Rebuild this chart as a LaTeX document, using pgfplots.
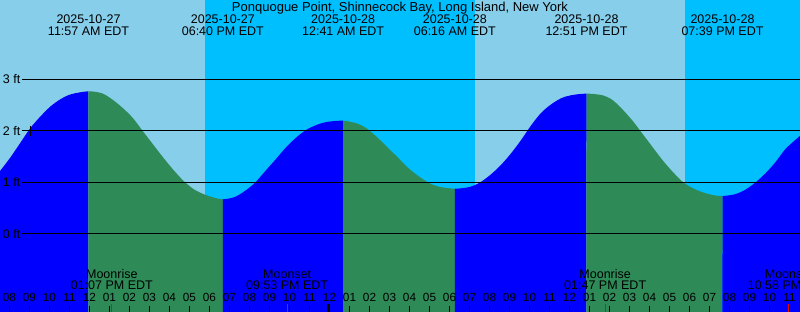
\documentclass[border=0pt]{standalone}
\usepackage{pgfplots}
\pgfplotsset{compat=1.18}
\usepgfplotslibrary{fillbetween}
\usepackage{fontspec}
\setmainfont{Liberation Sans}
\definecolor{daysky}{RGB}{135,206,235}
\definecolor{nightsky}{RGB}{0,191,255}
\definecolor{tideblue}{RGB}{0,0,255}
\definecolor{tidegreen}{RGB}{46,139,87}
\newcommand{\evfont}{\fontsize{12.5bp}{15bp}\selectfont}
\newcommand{\ttlfont}{\fontsize{13bp}{15bp}\selectfont}
\newcommand{\hrfont}{\fontsize{11.8bp}{13bp}\selectfont}
\pgfplotstableread{
h ft
7.0 0.95
7.525 1.217
8.035 1.476
8.545 1.767
9.055 2.058
9.565 2.285
10.075 2.48
10.585 2.62
11.095 2.71
11.95 2.765
12.625 2.726
13.125 2.61
13.645 2.447
14.16 2.25
14.67 1.99
15.175 1.735
15.69 1.476
16.2 1.237
16.71 1.023
17.22 0.862
17.725 0.765
18.225 0.70
18.667 0.668
19.26 0.713
19.77 0.83
20.275 0.99
20.79 1.217
21.3 1.44
21.81 1.67
22.325 1.864
22.825 2.014
23.34 2.11
23.85 2.17
24.683 2.194
25.375 2.14
25.875 2.04
26.405 1.864
26.915 1.67
27.425 1.476
27.925 1.28
28.445 1.12
28.955 0.99
29.465 0.913
30.267 0.874
30.995 0.907
31.505 0.99
32.015 1.134
32.525 1.315
33.035 1.54
33.545 1.80
34.055 2.09
34.565 2.34
35.075 2.51
35.585 2.63
36.095 2.69
36.85 2.72
37.625 2.69
38.135 2.60
38.645 2.415
39.16 2.19
39.67 1.93
40.175 1.67
40.69 1.41
41.2 1.185
41.71 0.99
42.22 0.874
42.725 0.796
43.24 0.746
43.65 0.732
44.26 0.765
44.77 0.85
45.28 0.99
45.79 1.17
46.3 1.39
46.81 1.65
47.525 1.90
48.0 2.06
}\tide
\begin{document}
\begin{tikzpicture}
\begin{axis}[
  at={(0,0)}, anchor=south west,
  scale only axis, width=800bp, height=312bp,
  xmin=7.525, xmax=47.525, ymin=-1.520, ymax=4.538,
  set layers,
  axis line style={draw=none},
  axis on top,
  tick align=inside,
  xtick pos=bottom,
  major tick length=6.3bp,
  xtick={8,...,47},
  xticklabels={08,09,10,11,12,01,02,03,04,05,06,07,08,09,10,11,12,01,02,03,04,05,06,07,08,09,10,11,12,01,02,03,04,05,06,07,08,09,10,11},
  xtick style={black, line width=1bp},
  xticklabel style={anchor=base, yshift=10.3bp, inner sep=0pt, font=\hrfont},
  ytick={0,1,2,3},
  yticklabels={0 ft,1 ft,2 ft,3 ft},
  ytick style={draw=none},
  yticklabel style={anchor=west, inner sep=0pt, xshift=2.7bp, font=\evfont},
]
% day / night background
\addplot[on layer=axis background, draw=none, fill=daysky] coordinates {(6.5,-2) (6.5,5) (17.775,5) (17.775,-2)} -- cycle;
\addplot[on layer=axis background, draw=none, fill=nightsky] coordinates {(17.775,-2) (17.775,5) (31.275,5) (31.275,-2)} -- cycle;
\addplot[on layer=axis background, draw=none, fill=daysky] coordinates {(31.275,-2) (31.275,5) (41.775,5) (41.775,-2)} -- cycle;
\addplot[on layer=axis background, draw=none, fill=nightsky] coordinates {(41.775,-2) (41.775,5) (48.5,5) (48.5,-2)} -- cycle;
% tide curve
\addplot[name path=tide, draw=none, smooth] table[x=h, y=ft] {\tide};
\addplot[name path=bot, draw=none] coordinates {(6.5,-2) (48.5,-2)};
\addplot[fill=tideblue, draw=none] fill between[of=tide and bot, soft clip={domain=6.9:11.95}];
\addplot[fill=tidegreen, draw=none] fill between[of=tide and bot, soft clip={domain=11.95:18.667}];
\addplot[fill=tideblue, draw=none] fill between[of=tide and bot, soft clip={domain=18.667:24.683}];
\addplot[fill=tidegreen, draw=none] fill between[of=tide and bot, soft clip={domain=24.683:30.267}];
\addplot[fill=tideblue, draw=none] fill between[of=tide and bot, soft clip={domain=30.267:36.85}];
\addplot[fill=tidegreen, draw=none] fill between[of=tide and bot, soft clip={domain=36.85:43.65}];
\addplot[fill=tideblue, draw=none] fill between[of=tide and bot, soft clip={domain=43.65:48.1}];
% level lines
\addplot[black, line width=1.2bp] coordinates {(8.625,0) (48.5,0)};
\addplot[black, line width=1.2bp] coordinates {(8.625,1) (48.5,1)};
\addplot[black, line width=1.2bp] coordinates {(8.625,2) (48.5,2)};
\addplot[black, line width=1.2bp] coordinates {(8.625,3) (48.5,3)};
% current level marker
\addplot[black, only marks, mark=+, mark size=5bp, mark options={line width=1bp}] coordinates {(9.025,2.0)};
% moon ticks and midnight tick
\addplot[red, line width=1bp] coordinates {(13.117,-1.52) (13.117,-1.365)};
\addplot[red, line width=1bp] coordinates {(21.883,-1.52) (21.883,-1.365)};
\addplot[red, line width=1bp] coordinates {(37.783,-1.52) (37.783,-1.365)};
\addplot[red, line width=1bp] coordinates {(46.967,-1.52) (46.967,-1.365)};
\addplot[black, line width=2.7bp] coordinates {(23.96,-1.52) (23.96,-1.365)};
% title
\node[anchor=base, inner sep=0pt, font=\ttlfont] at (axis cs:27.525,4.32) {Ponquogue Point, Shinnecock Bay, Long Island, New York};
% tide event labels
\node[anchor=base, inner sep=0pt, font=\evfont] at (axis cs:5.49,4.072) {2025-10-27};
\node[anchor=base, inner sep=0pt, font=\evfont] at (axis cs:5.49,3.839) {05:29 AM EDT};
\node[anchor=base, inner sep=0pt, font=\evfont] at (axis cs:11.95,4.072) {2025-10-27};
\node[anchor=base, inner sep=0pt, font=\evfont] at (axis cs:11.95,3.839) {11:57 AM EDT};
\node[anchor=base, inner sep=0pt, font=\evfont] at (axis cs:18.667,4.072) {2025-10-27};
\node[anchor=base, inner sep=0pt, font=\evfont] at (axis cs:18.667,3.839) {06:40 PM EDT};
\node[anchor=base, inner sep=0pt, font=\evfont] at (axis cs:24.683,4.072) {2025-10-28};
\node[anchor=base, inner sep=0pt, font=\evfont] at (axis cs:24.683,3.839) {12:41 AM EDT};
\node[anchor=base, inner sep=0pt, font=\evfont] at (axis cs:30.267,4.072) {2025-10-28};
\node[anchor=base, inner sep=0pt, font=\evfont] at (axis cs:30.267,3.839) {06:16 AM EDT};
\node[anchor=base, inner sep=0pt, font=\evfont] at (axis cs:36.85,4.072) {2025-10-28};
\node[anchor=base, inner sep=0pt, font=\evfont] at (axis cs:36.85,3.839) {12:51 PM EDT};
\node[anchor=base, inner sep=0pt, font=\evfont] at (axis cs:43.65,4.072) {2025-10-28};
\node[anchor=base, inner sep=0pt, font=\evfont] at (axis cs:43.65,3.839) {07:39 PM EDT};
\node[anchor=base, inner sep=0pt, font=\evfont] at (axis cs:49.57,4.072) {2025-10-29};
\node[anchor=base, inner sep=0pt, font=\evfont] at (axis cs:49.57,3.839) {01:34 AM EDT};
% moon labels
\node[anchor=base, inner sep=0pt, font=\evfont] at (axis cs:13.117,-0.866) {Moonrise};
\node[anchor=base, inner sep=0pt, font=\evfont] at (axis cs:13.117,-1.080) {01:07 PM EDT};
\node[anchor=base, inner sep=0pt, font=\evfont] at (axis cs:21.883,-0.866) {Moonset};
\node[anchor=base, inner sep=0pt, font=\evfont] at (axis cs:21.883,-1.080) {09:53 PM EDT};
\node[anchor=base, inner sep=0pt, font=\evfont] at (axis cs:37.783,-0.866) {Moonrise};
\node[anchor=base, inner sep=0pt, font=\evfont] at (axis cs:37.783,-1.080) {01:47 PM EDT};
\node[anchor=base, inner sep=0pt, font=\evfont] at (axis cs:46.967,-0.866) {Moonset};
\node[anchor=base, inner sep=0pt, font=\evfont] at (axis cs:46.967,-1.080) {10:58 PM EDT};
\end{axis}
\pgfresetboundingbox
\path[use as bounding box] (0,0) rectangle (800bp,312bp);
\end{tikzpicture}
\end{document}
